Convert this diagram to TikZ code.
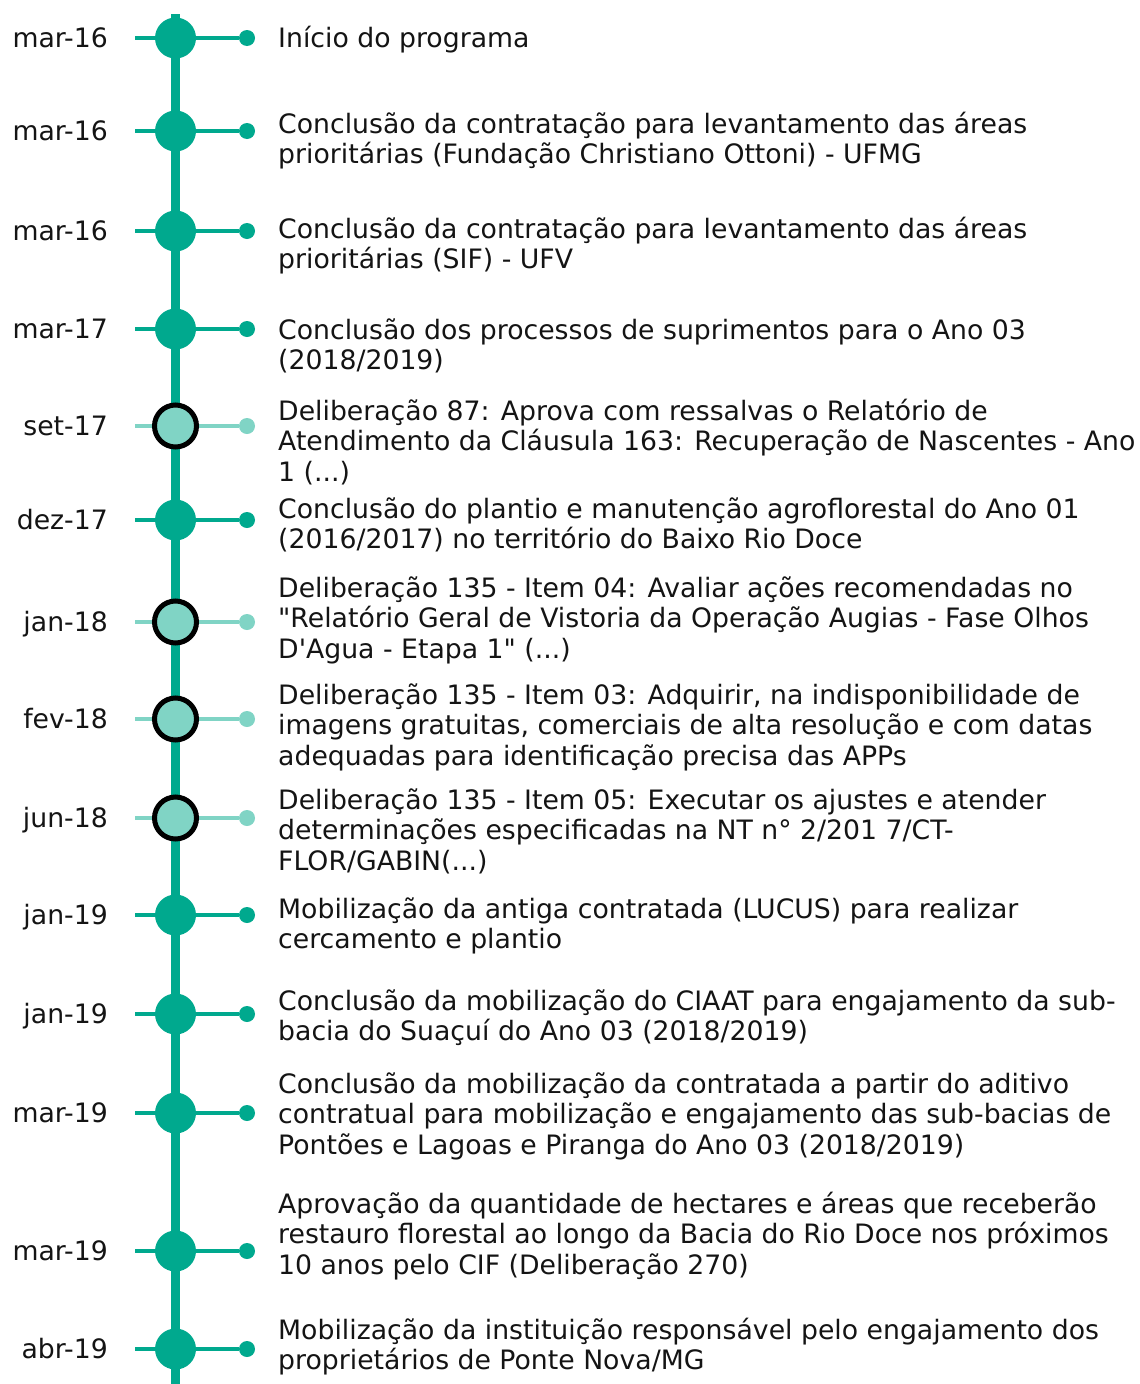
\documentclass[tikz,border=0pt]{standalone}
\usepackage{fontspec}
\font\tlf="DejaVu Sans" at 26.7pt
\definecolor{tealmain}{RGB}{0,169,142}
\definecolor{teallight}{RGB}{128,212,197}
\definecolor{txtcol}{RGB}{20,20,20}
\tikzset{
  spine/.style={draw=tealmain, line width=9pt},
  stub/.style={draw=tealmain, line width=4.5pt},
  stublight/.style={draw=teallight, line width=4.5pt},
  bigdot/.style={circle, fill=tealmain, minimum size=41pt, inner sep=0pt},
  ringdot/.style={circle, fill=teallight, draw=black, line width=5pt, minimum size=42pt, inner sep=0pt},
  enddot/.style={circle, fill=tealmain, minimum size=16pt, inner sep=0pt},
  enddotlight/.style={circle, fill=teallight, minimum size=16pt, inner sep=0pt},
  datelbl/.style={anchor=base east, inner sep=0pt, text=txtcol, font={\fontsize{26.7pt}{30.6pt}\selectfont\tlf}},
  desc/.style={anchor=north west, align=left, inner sep=0pt, text=txtcol, font={\fontsize{26.7pt}{30.6pt}\selectfont\tlf}},
}
\newcommand{\evfull}[3]{% id, y, date
  \coordinate (l#1) at (135,#2);
  \node[enddot] (d#1) at (247,#2) {};
  \draw[stub] (l#1) -- (d#1);
  \node[bigdot] (c#1) at (175.5,#2) {};
  \node[datelbl] (t#1) at (108,#2+9.5) {#3};
}
\newcommand{\evring}[3]{% id, y, date
  \coordinate (l#1) at (135,#2);
  \node[enddotlight] (d#1) at (247,#2) {};
  \draw[stublight] (l#1) -- (d#1);
  \node[ringdot] (c#1) at (175.5,#2) {};
  \node[datelbl] (t#1) at (108,#2+9.5) {#3};
}
\newcommand{\evtext}[3]{% id, first line centre y, text
  \node[desc] (x#1) at (278,#2-11.4) {\strut #3};
}
\begin{document}
\begin{tikzpicture}[x=1pt,y=-1pt]
\useasboundingbox (0,0) rectangle (1140,1384);
\fill[white] (0,0) rectangle (1140,1384);
\coordinate (top) at (175.5,14);
\coordinate (bot) at (175.5,1384);
\draw[spine] (top) -- (bot);

\evfull{1}{38}{mar-16}
\evfull{2}{131}{mar-16}
\evfull{3}{231}{mar-16}
\evfull{4}{329}{mar-17}
\evring{5}{426}{set-17}
\evfull{6}{520}{dez-17}
\evring{7}{622}{jan-18}
\evring{8}{719}{fev-18}
\evring{9}{818}{jun-18}
\evfull{10}{915}{jan-19}
\evfull{11}{1014}{jan-19}
\evfull{12}{1113}{mar-19}
\evfull{13}{1251}{mar-19}
\evfull{14}{1349}{abr-19}

\evtext{1}{37}{Início do programa}
\evtext{2}{123}{Conclusão da contratação para levantamento das áreas\\prioritárias (Fundação Christiano Ottoni) - UFMG}
\evtext{3}{228}{Conclusão da contratação para levantamento das áreas\\prioritárias (SIF) - UFV}
\evtext{4}{329}{Conclusão dos processos de suprimentos para o Ano 03\\(2018/2019)}
\evtext{5}{410}{Deliberação 87: Aprova com ressalvas o Relatório de\\Atendimento da Cláusula 163: Recuperação de Nascentes - Ano\\1 (...)}
\evtext{6}{508}{Conclusão do plantio e manutenção agroflorestal do Ano 01\\(2016/2017) no território do Baixo Rio Doce}
\evtext{7}{587}{Deliberação 135 - Item 04: Avaliar ações recomendadas no\\"Relatório Geral de Vistoria da Operação Augias - Fase Olhos\\D'Agua - Etapa 1" (...)}
\evtext{8}{694}{Deliberação 135 - Item 03: Adquirir, na indisponibilidade de\\imagens gratuitas, comerciais de alta resolução e com datas\\adequadas para identificação precisa das APPs}
\evtext{9}{799}{Deliberação 135 - Item 05: Executar os ajustes e atender\\determinações especificadas na NT n° 2/201 7/CT-\\FLOR/GABIN(...)}
\evtext{10}{908}{Mobilização da antiga contratada (LUCUS) para realizar\\cercamento e plantio}
\evtext{11}{1000}{Conclusão da mobilização do CIAAT para engajamento da sub-\\bacia do Suaçuí do Ano 03 (2018/2019)}
\evtext{12}{1083}{Conclusão da mobilização da contratada a partir do aditivo\\contratual para mobilização e engajamento das sub-bacias de\\Pontões e Lagoas e Piranga do Ano 03 (2018/2019)}
\evtext{13}{1203}{Aprovação da quantidade de hectares e áreas que receberão\\restauro florestal ao longo da Bacia do Rio Doce nos próximos\\10 anos pelo CIF (Deliberação 270)}
\evtext{14}{1329}{Mobilização da instituição responsável pelo engajamento dos\\proprietários de Ponte Nova/MG}
\end{tikzpicture}
\end{document}
